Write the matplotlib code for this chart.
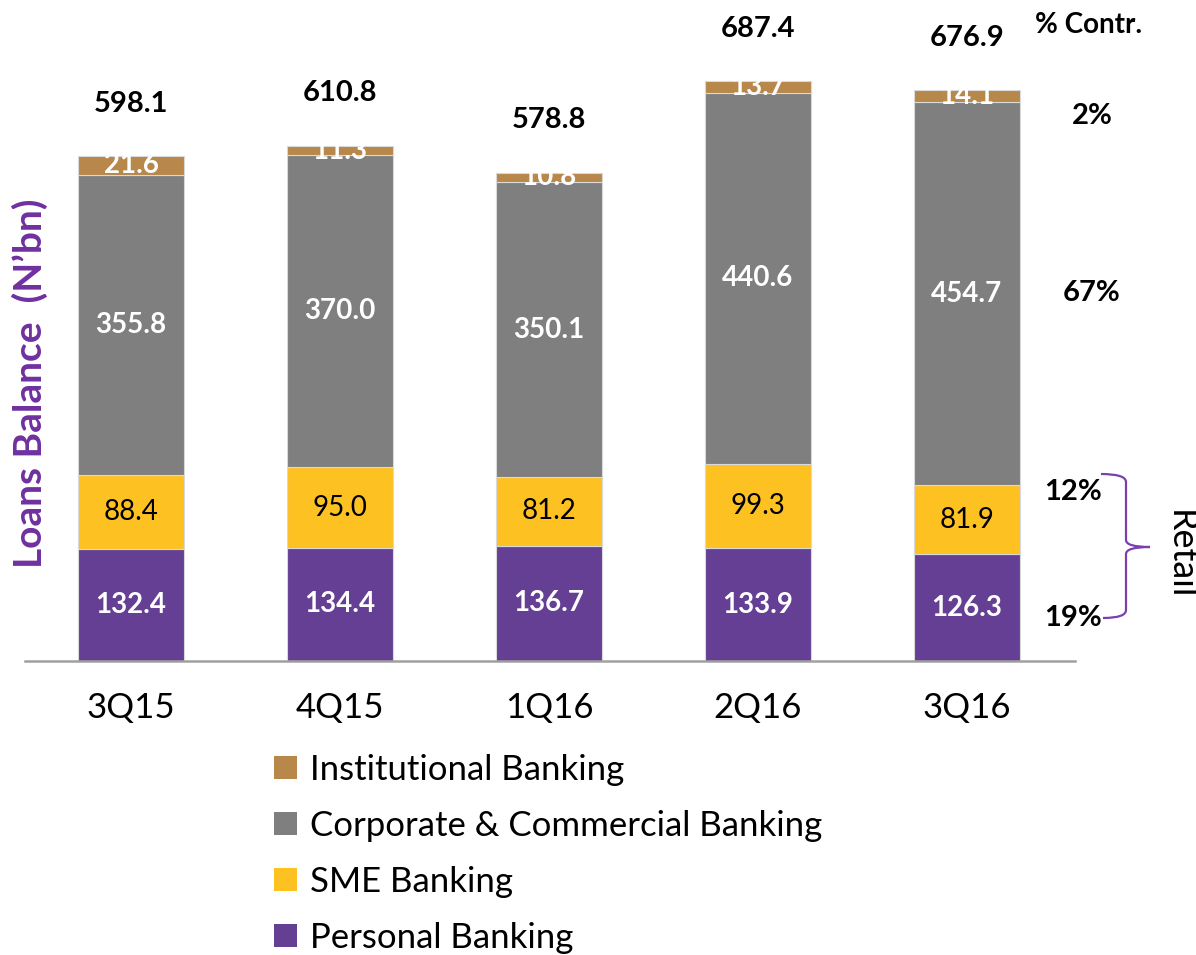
import numpy as np
import matplotlib.pyplot as plt
from matplotlib.patches import Patch, PathPatch
from matplotlib.path import Path
import matplotlib.transforms as mtransforms

plt.rcParams['font.family'] = ['Lato', 'DejaVu Sans']

# data
quarters = ['3Q15', '4Q15', '1Q16', '2Q16', '3Q16']
personal = [132.4, 134.4, 136.7, 133.9, 126.3]
sme = [88.4, 95.0, 81.2, 99.3, 81.9]
corporate = [355.8, 370.0, 350.1, 440.6, 454.7]
institutional = [21.6, 11.3, 10.8, 13.7, 14.1]
totals = [598.1, 610.8, 578.8, 687.4, 676.9]
contr_labels = ['2%', '67%', '12%', '19%']
contr_y = [646, 436, 200, 51]

col_personal = '#643F94'
col_sme = '#FDC122'
col_corp = '#7F7F7F'
col_inst = '#B8874A'
col_label = '#7030A0'

W, H = 1196, 955
fig = plt.figure(figsize=(W / 100, H / 100), dpi=100)
ax = fig.add_axes([25 / W, 1 - 661 / H, 1050 / W, 590.5 / H])

x = np.arange(len(quarters))
bw = 0.51
series = [
    (personal, col_personal, 'Personal Banking', 'white'),
    (sme, col_sme, 'SME Banking', 'black'),
    (corporate, col_corp, 'Corporate & Commercial Banking', 'white'),
    (institutional, col_inst, 'Institutional Banking', 'white'),
]
bottom = np.zeros(len(quarters))
for vals, col, name, tcol in series:
    vals = np.array(vals)
    ax.bar(x, vals, bw, bottom=bottom, color=col, edgecolor='#D9D9D9', linewidth=0.8, zorder=2)
    for xi, b, v in zip(x, bottom, vals):
        ax.text(xi, b + v / 2, f"{v:.1f}", ha='center', va='center', color=tcol,
                fontsize=20, fontweight='bold' if tcol == 'white' else 'normal', zorder=3)
    bottom = bottom + vals

for xi, t in zip(x, totals):
    ax.text(xi, t + 62, f"{t:.1f}", ha='center', va='center', fontsize=21,
            fontweight='bold', clip_on=False)

ax.set_xlim(-0.507, 4.517)
ax.set_ylim(0, 700)
ax.set_xticks(x)
ax.set_xticklabels(quarters, fontsize=25)
ax.tick_params(axis='x', length=0, pad=22)
ax.set_yticks([])
for s in ['top', 'right', 'left']:
    ax.spines[s].set_visible(False)
ax.spines['bottom'].set_color('#A0A0A0')
ax.spines['bottom'].set_linewidth(1.8)

# y label
fig.text(30 / W, 1 - 383 / H, 'Loans Balance  (N\u2019bn)', rotation=90, ha='center', va='center',
         color=col_label, fontsize=28, fontweight='bold')

# % contribution column
trans = mtransforms.blended_transform_factory(fig.transFigure, ax.transData)
fig.text(1089 / W, 1 - 25 / H, '% Contr.', ha='center', va='center', fontsize=20, fontweight='bold')
contr_x = [1092, 1092, 1073, 1073]
for lab, yy, xx in zip(contr_labels, contr_y, contr_x):
    ax.text(xx / W, yy, lab, transform=trans, ha='center', va='center', fontsize=21,
            fontweight='bold', clip_on=False)

# retail brace
def px(a, b):
    return (a / W, 1 - b / H)

verts = [px(1101, 474), px(1126, 474), px(1126, 482), px(1126, 540),
         px(1126, 547), px(1150, 547), px(1126, 547), px(1126, 554),
         px(1126, 610), px(1126, 618), px(1103, 618)]
codes = [Path.MOVETO, Path.CURVE3, Path.CURVE3, Path.LINETO,
         Path.CURVE3, Path.CURVE3, Path.CURVE3, Path.CURVE3,
         Path.LINETO, Path.CURVE3, Path.CURVE3]
brace = PathPatch(Path(verts, codes), transform=fig.transFigure, facecolor='none',
                  edgecolor='#7B3FB0', linewidth=1.6)
fig.patches.append(brace)
fig.text(1180 / W, 1 - 555 / H, 'Retail', rotation=-90, ha='center', va='center', fontsize=26)

# legend
handles = [Patch(facecolor=c, edgecolor='none', label=n) for _, c, n, _ in series[::-1]]
fig.legend(handles=handles, loc='upper left', bbox_to_anchor=(274 / W, 1 - 754 / H),
           frameon=False, fontsize=25, handlelength=0.65, handleheight=0.65,
           handletextpad=0.4, labelspacing=0.69, borderaxespad=0, borderpad=0)

plt.savefig('out.png', dpi=100)
